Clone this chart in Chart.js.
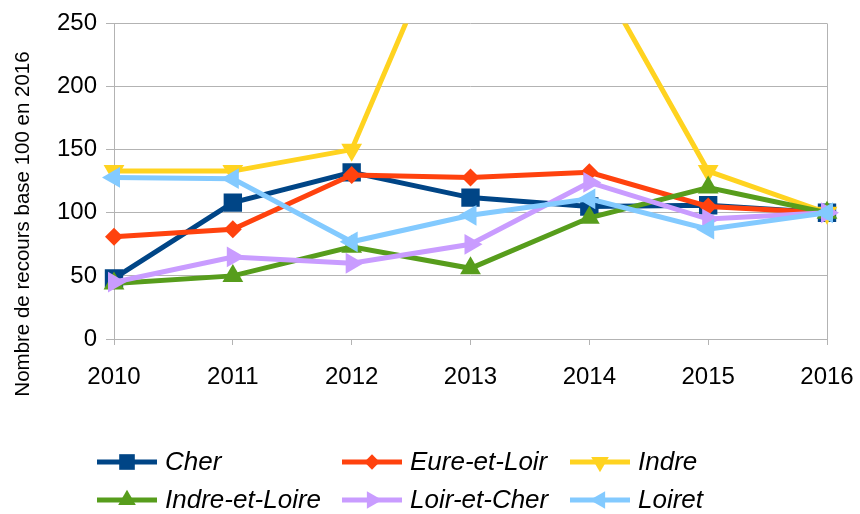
<!DOCTYPE html>
<html><head><meta charset="utf-8">
<script src="https://cdn.jsdelivr.net/npm/chart.js@4/dist/chart.umd.min.js"></script>
<style>html,body{margin:0;padding:0;background:#fff}#wrap{width:860px;height:514px}</style>
</head><body><div id="wrap"><canvas id="c" width="860" height="514"></canvas></div>
<script>
const years = ['2010', '2011', '2012', '2013', '2014', '2015', '2016'];
const seriesNames = ['Cher', 'Eure-et-Loir', 'Indre', 'Indre-et-Loire', 'Loir-et-Cher', 'Loiret'];
const cher = [48, 108, 132, 112, 105, 106, 100];
const eureEtLoir = [81, 87, 130, 128, 132, 105, 100];
const indre = [133, 133, 150, 370, 300, 133, 100];
const indreEtLoire = [44, 50, 73, 56, 96, 120, 100];
const loirEtCher = [45, 65, 60, 75, 124, 95, 100];
const loiret = [128, 127, 77, 98, 111, 87, 100];
const yTicks = [0, 50, 100, 150, 200, 250];
const yTitle = 'Nombre de recours base 100 en 2016';

const FONT = "'Liberation Sans', Arial, sans-serif";
const colors = ['#004586', '#ff420e', '#ffd320', '#579d1c', '#c99cff', '#83caff'];
const styles = [
  {pointStyle: 'rect', rotation: 0, radius: 13},
  {pointStyle: 'rectRot', rotation: 0, radius: 9},
  {pointStyle: 'triangle', rotation: 180, radius: 12},
  {pointStyle: 'triangle', rotation: 0, radius: 12},
  {pointStyle: 'triangle', rotation: 90, radius: 12},
  {pointStyle: 'triangle', rotation: -90, radius: 12}
];
const values = [cher, eureEtLoir, indre, indreEtLoire, loirEtCher, loiret];

const datasets = seriesNames.map((name, i) => ({
  label: name,
  data: values[i],
  borderColor: colors[i],
  backgroundColor: colors[i],
  borderWidth: 5,
  pointStyle: styles[i].pointStyle,
  pointRotation: styles[i].rotation,
  pointRadius: styles[i].radius,
  pointHoverRadius: styles[i].radius,
  pointBorderWidth: 0,
  tension: 0,
  order: -i
}));

const extras = {
  id: 'extras',
  afterDraw(chart) {
    const ctx = chart.ctx;
    // y-axis title
    ctx.save();
    ctx.translate(23, 224);
    ctx.rotate(-Math.PI / 2);
    ctx.font = '20.5px ' + FONT;
    ctx.fillStyle = '#000';
    ctx.textAlign = 'center';
    ctx.textBaseline = 'middle';
    ctx.fillText(yTitle, 0, 0);
    ctx.restore();
    // legend
    const colX = [97, 342, 570];
    const rowY = [462, 500];
    chart.data.datasets.forEach((ds, i) => {
      const x0 = colX[i % 3], y = rowY[Math.floor(i / 3)];
      ctx.save();
      ctx.strokeStyle = ds.borderColor;
      ctx.lineWidth = 5;
      ctx.beginPath();
      ctx.moveTo(x0, y);
      ctx.lineTo(x0 + 60, y);
      ctx.stroke();
      ctx.fillStyle = ds.backgroundColor;
      Chart.helpers.drawPoint(ctx, {pointStyle: ds.pointStyle, rotation: ds.pointRotation, radius: ds.pointRadius * 0.85, borderWidth: 0}, x0 + 30, y);
      ctx.font = 'italic 26px ' + FONT;
      ctx.fillStyle = '#000';
      ctx.textAlign = 'left';
      ctx.textBaseline = 'middle';
      ctx.fillText(ds.label, x0 + 68, y + 1);
      ctx.restore();
    });
  }
};

new Chart(document.getElementById('c'), {
  type: 'line',
  data: {labels: years, datasets},
  plugins: [extras],
  options: {
    responsive: false,
    animation: false,
    events: [],
    layout: {padding: {left: 0, right: 33, top: 10, bottom: 0}},
    plugins: {legend: {display: false}, tooltip: {enabled: false}},
    scales: {
      x: {
        offset: false,
        afterFit: s => { s.height = 175; s.paddingLeft = 0; s.paddingRight = 0; },
        grid: {
          drawOnChartArea: true,
          color: c => (c.index === 0 || c.index === years.length - 1) ? '#b3b3b3' : 'rgba(0,0,0,0)',
          tickColor: '#b3b3b3',
          tickLength: 6,
          lineWidth: 1
        },
        border: {display: false},
        ticks: {color: '#000', font: {family: FONT, size: 24}, padding: 18, maxRotation: 0}
      },
      y: {
        min: 0, max: 250,
        afterFit: s => { s.width = 114; },
        afterBuildTicks: s => { s.ticks = yTicks.map(v => ({value: v})); },
        grid: {color: '#b3b3b3', tickColor: '#b3b3b3', tickLength: 8, lineWidth: 1},
        border: {display: false},
        ticks: {color: '#000', font: {family: FONT, size: 24}, padding: 9}
      }
    }
  }
});
</script></body></html>
